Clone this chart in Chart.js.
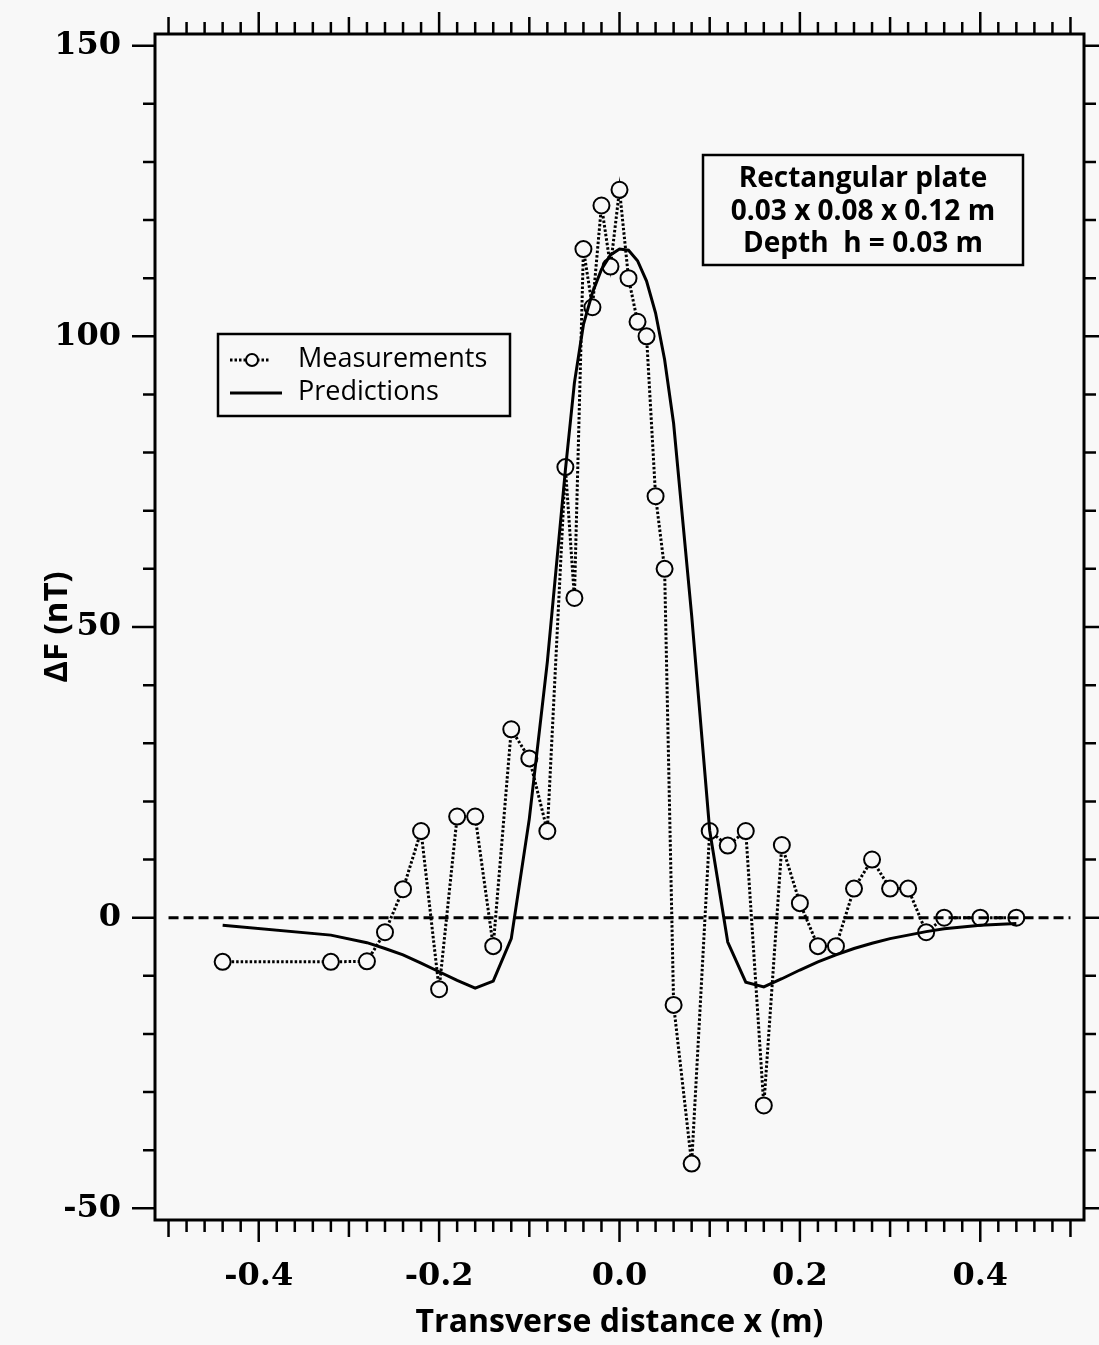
<!DOCTYPE html>
<html>
<head>
<meta charset="utf-8">
<title>Transverse profile - rectangular plate</title>
<script src="https://cdn.jsdelivr.net/npm/chart.js@4.4.1/dist/chart.umd.min.js"></script>
<style>
  html, body { margin: 0; padding: 0; background: #f8f8f8; }
  #wrap { width: 1099px; height: 1345px; }
</style>
</head>
<body>
<div id="wrap"><canvas id="profileChart" width="1099" height="1345"></canvas></div>
<script>
// stations along the transverse line (m)
const xPos = [-0.44, -0.32, -0.28, -0.26, -0.24, -0.22, -0.20, -0.18, -0.16, -0.14,
              -0.12, -0.10, -0.08, -0.06, -0.05, -0.04, -0.03, -0.02, -0.01, 0.00,
               0.01,  0.02,  0.03,  0.04,  0.05,  0.06,  0.08,  0.10,  0.12, 0.14,
               0.16,  0.18,  0.20,  0.22,  0.24,  0.26,  0.28,  0.30,  0.32, 0.34,
               0.36,  0.40,  0.44];

// measured anomaly dF (nT)
const measured = [-7.6, -7.6, -7.5, -2.5, 4.9, 14.9, -12.3, 17.4, 17.4, -4.9,
                  32.4, 27.4, 14.9, 77.5, 55, 115, 105, 122.5, 112, 125.2,
                  110, 102.5, 100, 72.5, 60, -15, -42.3, 14.9, 12.4, 14.9,
                  -32.3, 12.5, 2.5, -4.9, -4.9, 5, 10, 5, 5, -2.5,
                  0, 0, 0];

// model prediction dF (nT)
const predicted = [-1.3, -3.0, -4.3, -5.3, -6.4, -7.8, -9.3, -10.8, -12.1, -10.9,
                   -3.6, 17, 44, 77, 92, 102, 107.5, 111.5, 114, 115,
                   114.8, 113, 109.5, 104, 96, 85, 52, 15, -4.2, -11.1,
                   -11.9, -10.5, -9.0, -7.6, -6.4, -5.3, -4.4, -3.6, -3.0, -2.4,
                   -1.9, -1.3, -1.0];

// dashed zero reference
const zeroX = [-0.50, 0.50];
const zeroF = [0, 0];

const noteLines = ['Rectangular plate', '0.03 x 0.08 x 0.12 m', 'Depth  h = 0.03 m'];

const BG = '#f8f8f8';
const toPoints = (xs, ys) => xs.map((x, i) => ({ x: x, y: ys[i] }));

// box frame plus minor/major tick marks on all four sides
const frameTicks = {
  id: 'frameTicks',
  afterDraw(chart) {
    const { ctx, chartArea: a, scales: { x, y } } = chart;
    ctx.save();
    ctx.strokeStyle = '#000';
    ctx.lineWidth = 3;
    ctx.strokeRect(a.left, a.top, a.right - a.left, a.bottom - a.top);
    ctx.lineWidth = 2.5;
    ctx.beginPath();
    for (let i = -25; i <= 25; i++) {
      const px = x.getPixelForValue(i * 0.02);
      const len = i % 10 === 0 ? 22 : (i % 5 === 0 ? 17 : 12);
      ctx.moveTo(px, a.bottom); ctx.lineTo(px, a.bottom + len);
      ctx.moveTo(px, a.top); ctx.lineTo(px, a.top - len);
    }
    for (let j = -5; j <= 15; j++) {
      const py = y.getPixelForValue(j * 10);
      const len = j % 5 === 0 ? 23 : 12;
      ctx.moveTo(a.left, py); ctx.lineTo(a.left - len, py);
      ctx.moveTo(a.right, py); ctx.lineTo(a.right + len, py);
    }
    ctx.stroke();
    ctx.restore();
  }
};

// legend box on the left of the plot
const legendBox = {
  id: 'legendBox',
  afterDatasetsDraw(chart) {
    const { ctx, chartArea: a } = chart;
    const pred = chart.data.datasets[1];
    const meas = chart.data.datasets[2];
    const left = a.left + 63, top = a.top + 300, w = 292, h = 82;
    ctx.save();
    ctx.strokeStyle = '#000';
    ctx.lineWidth = 2.5;
    ctx.strokeRect(left, top, w, h);

    const r1 = top + 26;
    ctx.setLineDash(meas.borderDash);
    ctx.lineWidth = meas.borderWidth;
    ctx.beginPath();
    ctx.moveTo(left + 12, r1); ctx.lineTo(left + 52, r1);
    ctx.stroke();
    ctx.setLineDash([]);
    ctx.beginPath();
    ctx.arc(left + 34, r1, 6, 0, Math.PI * 2);
    ctx.fillStyle = BG;
    ctx.fill();
    ctx.lineWidth = 2;
    ctx.stroke();

    const r2 = top + 59;
    ctx.lineWidth = pred.borderWidth;
    ctx.beginPath();
    ctx.moveTo(left + 12, r2); ctx.lineTo(left + 64, r2);
    ctx.stroke();

    ctx.fillStyle = '#000';
    ctx.font = '27px "Open Sans"';
    ctx.textBaseline = 'alphabetic';
    ctx.textAlign = 'left';
    ctx.fillText(meas.label, left + 80, top + 33);
    ctx.fillText(pred.label, left + 80, top + 66);
    ctx.restore();
  }
};

// model description box, upper right
const noteBox = {
  id: 'noteBox',
  afterDatasetsDraw(chart) {
    const { ctx, chartArea: a } = chart;
    const left = a.left + 548, top = a.top + 121, w = 320, h = 110;
    ctx.save();
    ctx.strokeStyle = '#000';
    ctx.lineWidth = 2.5;
    ctx.strokeRect(left, top, w, h);
    ctx.fillStyle = '#000';
    ctx.font = 'bold 28px "Open Sans"';
    ctx.textAlign = 'center';
    ctx.textBaseline = 'alphabetic';
    noteLines.forEach((t, i) => ctx.fillText(t, left + w / 2, top + 32 + i * 32.5));
    ctx.restore();
  }
};

const ctx = document.getElementById('profileChart').getContext('2d');

new Chart(ctx, {
  type: 'line',
  data: {
    datasets: [
      {
        label: 'zero',
        data: toPoints(zeroX, zeroF),
        borderColor: '#000',
        borderWidth: 3,
        borderDash: [10, 5],
        pointRadius: 0
      },
      {
        label: 'Predictions',
        data: toPoints(xPos, predicted),
        borderColor: '#000',
        borderWidth: 3,
        pointRadius: 0,
        tension: 0
      },
      {
        label: 'Measurements',
        data: toPoints(xPos, measured),
        borderColor: '#000',
        borderWidth: 3,
        borderDash: [2.5, 2],
        pointRadius: 8,
        pointBorderWidth: 2,
        pointBorderColor: '#000',
        pointBackgroundColor: BG,
        tension: 0
      }
    ]
  },
  options: {
    responsive: false,
    animation: false,
    devicePixelRatio: 1,
    layout: { padding: { top: 34, right: 15, left: 0, bottom: 0 } },
    plugins: {
      legend: { display: false },
      tooltip: { enabled: false }
    },
    scales: {
      x: {
        type: 'linear',
        min: -0.515,
        max: 0.515,
        grid: { display: false, drawTicks: false },
        border: { display: false },
        ticks: {
          stepSize: 0.2,
          includeBounds: false,
          autoSkip: false,
          maxRotation: 0,
          padding: 37,
          color: '#000',
          font: { family: 'DejaVu Serif', weight: 'bold', size: 32 },
          callback: (v) => v.toFixed(1)
        },
        title: {
          display: true,
          text: 'Transverse distance x (m)',
          color: '#000',
          font: { family: 'Open Sans', weight: 'bold', size: 32 },
          padding: { top: 0, bottom: 3 }
        },
        afterFit: (s) => { s.height = 125; s.paddingLeft = 0; s.paddingRight = 0; }
      },
      y: {
        min: -52,
        max: 152,
        grid: { display: false, drawTicks: false },
        border: { display: false },
        ticks: {
          stepSize: 50,
          includeBounds: false,
          padding: 34,
          color: '#000',
          font: { family: 'DejaVu Serif', weight: 'bold', size: 32 },
          callback: (v) => String(Math.round(v))
        },
        title: {
          display: true,
          text: 'ΔF (nT)',
          color: '#000',
          font: { family: 'Open Sans', weight: 'bold', size: 33 },
          padding: { top: 38, bottom: 0 }
        },
        // fixed axis width; the plot top comes from layout padding only
        afterFit: (s) => { s.width = 155; s.paddingTop = 0; s.paddingBottom = 0; }
      }
    }
  },
  plugins: [frameTicks, legendBox, noteBox]
});
</script>
</body>
</html>
